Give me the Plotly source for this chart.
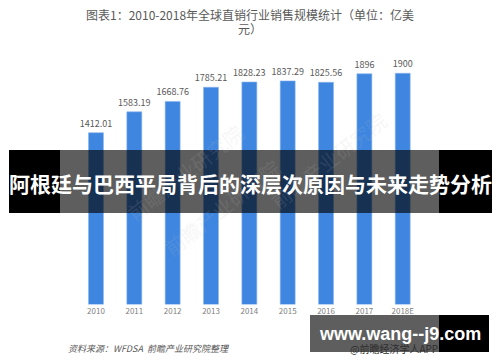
import plotly.graph_objects as go

categories = ["2010", "2011", "2012", "2013", "2014", "2015", "2016", "2017", "2018E"]
values = [1412.01, 1583.19, 1668.76, 1785.21, 1828.23, 1837.29, 1825.56, 1896, 1900]
labels = ["1412.01", "1583.19", "1668.76", "1785.21", "1828.23", "1837.29", "1825.56", "1896", "1900"]

title_line1 = "图表1：2010-2018年全球直销行业销售规模统计（单位：亿美"
title_line2 = "元）"
banner_text = "阿根廷与巴西平局背后的深层次原因与未来走势分析"
source_text = "资料来源：WFDSA  前瞻产业研究院整理"
app_text = "@前瞻经济学人APP"
site_text = "www.wang--j9.com"
wm_text = "前瞻产业研究院"

W, H = 500, 362
FONT = "Noto Sans CJK SC"

fig = go.Figure()
fig.add_trace(go.Bar(
    x=categories, y=values,
    text=labels, textposition="outside", cliponaxis=False, constraintext="none",
    textfont=dict(family=FONT, size=9, color="#595959"),
    marker=dict(color="#3f86e0", line=dict(color="#8cb6ec", width=0.6)),
))

def px(x):
    return x / W

def py(y):
    return 1 - y / H

shapes = [
    # banner
    dict(type="rect", xref="paper", yref="paper", x0=px(9), x1=px(60), y0=py(213), y1=py(150),
         fillcolor="black", line=dict(width=0), layer="above"),
    dict(type="rect", xref="paper", yref="paper", x0=px(60), x1=px(439), y0=py(213), y1=py(150),
         fillcolor="rgba(0,0,0,0.63)", line=dict(width=0), layer="above"),
    dict(type="rect", xref="paper", yref="paper", x0=px(439), x1=px(492), y0=py(213), y1=py(150),
         fillcolor="black", line=dict(width=0), layer="above"),
    # bottom-right site box
    dict(type="rect", xref="paper", yref="paper", x0=px(310), x1=px(439), y0=py(352), y1=py(315),
         fillcolor="rgba(0,0,0,0.63)", line=dict(width=0), layer="above"),
    dict(type="rect", xref="paper", yref="paper", x0=px(439), x1=px(489), y0=py(352), y1=py(315),
         fillcolor="black", line=dict(width=0), layer="above"),
]

annotations = [
    dict(text=title_line1, x=px(250), y=py(15), xref="paper", yref="paper", showarrow=False,
         font=dict(family=FONT, size=12, color="#595959"), xanchor="center", yanchor="middle"),
    dict(text=title_line2, x=px(250), y=py(28), xref="paper", yref="paper", showarrow=False,
         font=dict(family=FONT, size=12, color="#595959"), xanchor="center", yanchor="middle"),
    dict(text=source_text, x=px(66), y=py(348), xref="paper", yref="paper", showarrow=False,
         font=dict(family=FONT, size=9, color="#595959", style="italic"), xanchor="left", yanchor="middle"),
    dict(text=app_text, x=px(394), y=py(348), xref="paper", yref="paper", showarrow=False,
         font=dict(family=FONT, size=10, color="#2e2e2e"), xanchor="center", yanchor="middle"),
    dict(text="<b>" + banner_text + "</b>", x=px(250.5), y=py(183), xref="paper", yref="paper", showarrow=False,
         font=dict(family=FONT, size=21, color="white"), xanchor="center", yanchor="middle"),
    dict(text="<b>" + site_text + "</b>", x=px(399.5), y=py(334), xref="paper", yref="paper", showarrow=False,
         font=dict(family="Liberation Sans", size=18, color="white"), xanchor="center", yanchor="middle"),
    # faint watermarks
    dict(text=wm_text, x=px(185), y=py(115), xref="paper", yref="paper", showarrow=False, textangle=-38,
         font=dict(family=FONT, size=20, color="rgba(190,190,190,0.14)")),
    dict(text=wm_text, x=px(222), y=py(265), xref="paper", yref="paper", showarrow=False, textangle=-38,
         font=dict(family=FONT, size=20, color="rgba(190,190,190,0.14)")),
    dict(text=wm_text, x=px(395), y=py(160), xref="paper", yref="paper", showarrow=False, textangle=-38,
         font=dict(family=FONT, size=20, color="rgba(190,190,190,0.14)")),
]

fig.update_layout(
    width=W, height=H,
    margin=dict(l=0, r=0, t=0, b=0),
    paper_bgcolor="white", plot_bgcolor="white",
    showlegend=False,
    bargap=0.61,
    xaxis=dict(domain=[76.8 / W, 421.9 / W], showgrid=False, zeroline=False, showline=False,
               ticks="", tickfont=dict(family=FONT, size=8, color="#7f7f7f")),
    yaxis=dict(domain=[py(304.5), py(61.1)], range=[0, 2000], visible=False),
    shapes=shapes,
    annotations=annotations,
)

fig.write_html("out.html", config={"displayModeBar": False},
               post_script="document.body.style.margin='0';document.body.style.overflow='hidden';")
